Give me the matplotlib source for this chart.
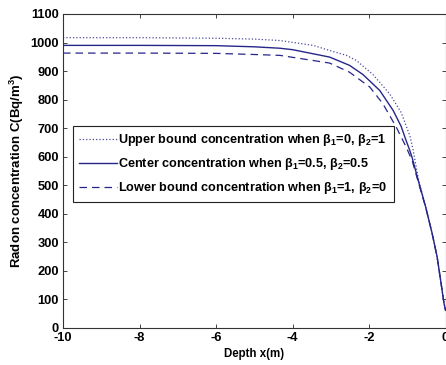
import matplotlib
matplotlib.use("Agg")
import matplotlib.pyplot as plt

# values (depth in m, concentration in Bq/m3)
x_upper = [-10, -8, -6, -5, -4.33, -3.46, -3.03, -2.59, -2.33, -1.9, -1.46, -1.16, -0.93, -0.85,
           -0.70, -0.52, -0.35, -0.22, -0.13, -0.04, 0]
c_upper = [1017, 1017, 1015, 1012, 1007, 990, 972, 955, 937, 888, 820, 755, 672, 625,
           515, 425, 331, 249, 168, 86, 62]

x_center = [-10, -8, -6, -5, -4.33, -4, -3.03, -2.51, -2.16, -1.72, -1.37, -1.16, -1.04, -0.93, -0.87,
            -0.70, -0.52, -0.35, -0.22, -0.13, -0.04, 0]
c_center = [990, 990, 989, 985, 980, 975, 949, 920, 888, 832, 762, 706, 660, 620, 595,
            510, 424, 331, 249, 168, 86, 62]

x_lower = [-10, -8, -6, -5, -4.33, -3.46, -3.03, -2.51, -1.98, -1.64, -1.29, -1.03, -0.87,
           -0.70, -0.52, -0.35, -0.22, -0.13, -0.04, 0]
c_lower = [963, 963, 962, 958, 955, 937, 928, 896, 844, 786, 704, 634, 585,
           505, 423, 330, 248, 168, 86, 62]

labels = ["Upper bound concentration when $\\mathbf{\\beta_1}$=0, $\\mathbf{\\beta_2}$=1",
          "Center concentration when $\\mathbf{\\beta_1}$=0.5, $\\mathbf{\\beta_2}$=0.5",
          "Lower bound concentration when $\\mathbf{\\beta_1}$=1, $\\mathbf{\\beta_2}$=0"]

xticks = [-10, -8, -6, -4, -2, 0]
yticks = list(range(0, 1101, 100))

plt.rcParams['font.family'] = ['Liberation Sans', 'DejaVu Sans']
plt.rcParams['font.weight'] = 'bold'
plt.rcParams['axes.unicode_minus'] = False
plt.rcParams['mathtext.fontset'] = 'custom'
plt.rcParams['mathtext.bf'] = 'Liberation Sans:bold'
plt.rcParams['mathtext.rm'] = 'Liberation Sans:bold'
plt.rcParams['mathtext.it'] = 'Liberation Sans:bold'

col = '#26268a'

fig = plt.figure(figsize=(4.46, 3.65), dpi=100)
ax = fig.add_axes([0.1413, 0.1014, 0.8577, 0.8603])

ax.plot(x_upper, c_upper, ':', color='#4a4a9a', lw=0.9, label=labels[0])
ax.plot(x_center, c_center, '-', color=col, lw=1.0, label=labels[1])
ax.plot(x_lower, c_lower, '--', color=col, lw=0.9, dashes=(6, 4), label=labels[2])

ax.set_xlim(-10, 0)
ax.set_ylim(0, 1100)
ax.set_xticks(xticks)
ax.set_yticks(yticks)
ax.tick_params(direction='in', top=True, right=True, length=3, width=0.7,
               labelsize=9.3, pad=3, color='#444444')
for s in ax.spines.values():
    s.set_linewidth(0.8)
    s.set_color('#333333')

ax.set_xlabel("Depth x(m)", fontsize=8.3, fontweight='bold', labelpad=3)
ax.set_ylabel("Radon concentration C(Bq/m$^3$)", fontsize=9.5, fontweight='bold', labelpad=3)

leg = ax.legend(loc='upper left', bbox_to_anchor=(0.026, 0.643), borderaxespad=0,
                fontsize=9.1, handlelength=3.0, handletextpad=0.1, labelspacing=0.62,
                fancybox=False, framealpha=1, edgecolor='#222222', borderpad=0.5)
leg.get_frame().set_linewidth(0.8)

fig.savefig("out.png", dpi=100)
